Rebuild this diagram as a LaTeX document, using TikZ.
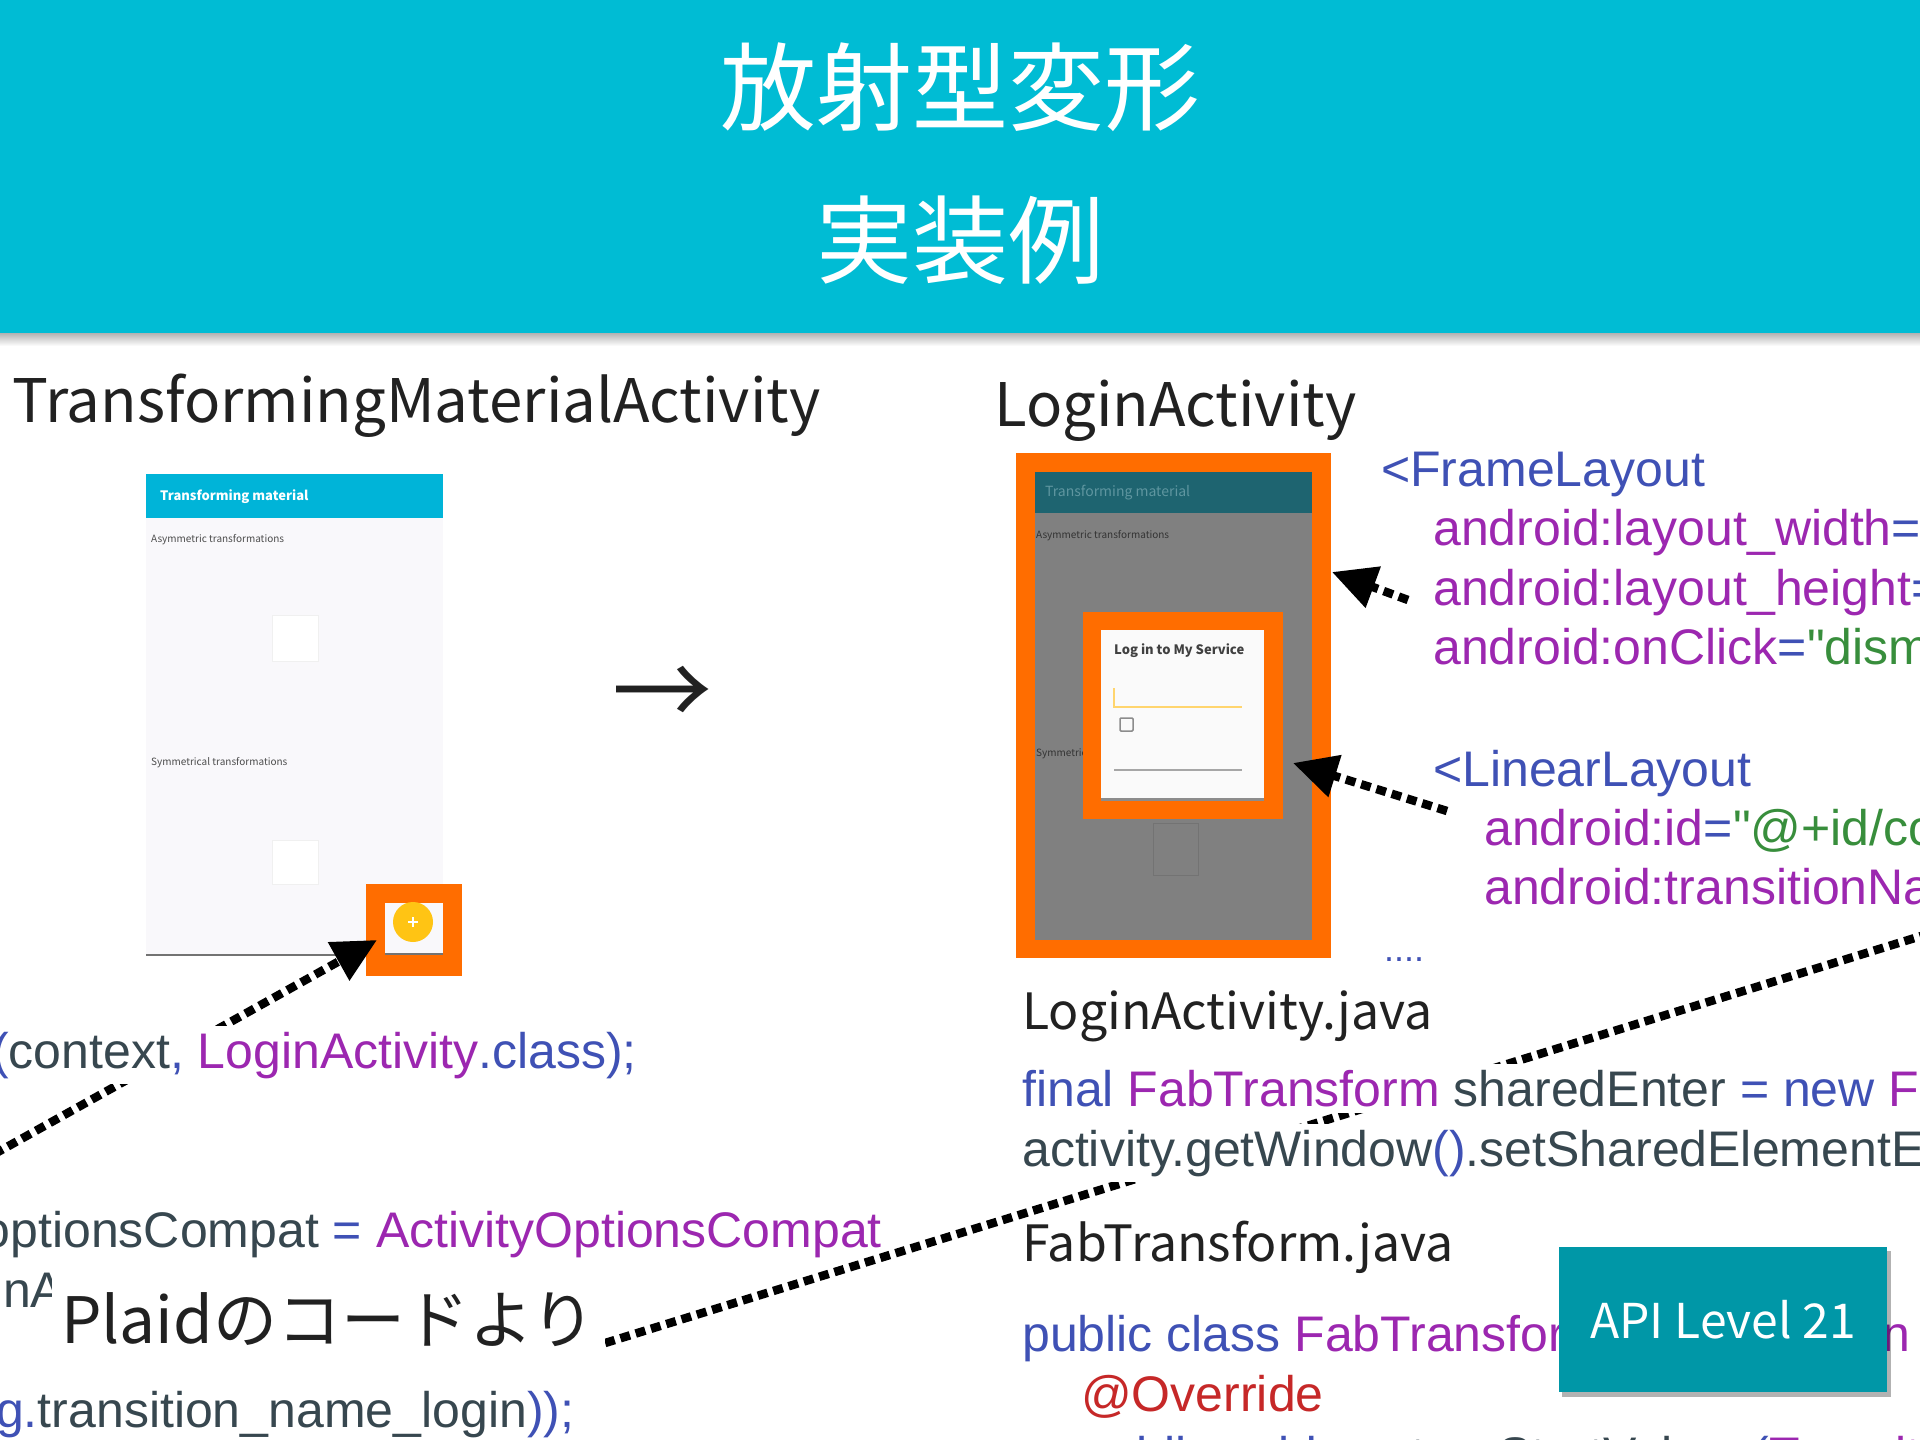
\documentclass[tikz,border=0pt]{standalone}
\usepackage{fontspec}
\setmainfont{Noto Sans CJK JP}
\newfontfamily\codefont{Liberation Sans}
\usetikzlibrary{arrows.meta}
\definecolor{titlebg}{RGB}{0,188,212}
\definecolor{orng}{RGB}{255,109,0}
\definecolor{cblue}{RGB}{63,81,181}
\definecolor{cpurple}{RGB}{156,39,176}
\definecolor{cgray}{RGB}{55,71,79}
\definecolor{cgreen}{RGB}{56,142,60}
\definecolor{cred}{RGB}{198,40,40}
\definecolor{apibg}{RGB}{0,151,167}
\definecolor{tbblue}{RGB}{0,180,216}
\definecolor{tbdark}{RGB}{30,100,112}
\definecolor{tbdarktxt}{RGB}{95,150,160}
\definecolor{scrgray}{RGB}{128,128,128}
\definecolor{scrlight}{RGB}{249,248,251}
\definecolor{headtxt}{RGB}{33,33,33}
\definecolor{fabyel}{RGB}{255,196,20}
\definecolor{fieldyel}{RGB}{255,213,110}
\newcommand\kB[1]{\textcolor{cblue}{#1}}
\newcommand\kP[1]{\textcolor{cpurple}{#1}}
\newcommand\kG[1]{\textcolor{cgray}{#1}}
\newcommand\kN[1]{\textcolor{cgreen}{#1}}
\newcommand\kR[1]{\textcolor{cred}{#1}}
\pgfdeclarelayer{bg}
\pgfdeclarelayer{lines}
\pgfsetlayers{bg,lines,main}
\begin{document}
\begin{tikzpicture}[x=1pt,y=-1pt,
  box/.style={anchor=north west, inner sep=0pt, outer sep=0pt},
  code/.style={font=\codefont\fontsize{50}{60}\selectfont, anchor=base west, inner sep=0pt},
  head/.style={font=\fontsize{60}{70}\selectfont, text=headtxt, anchor=base west, inner sep=0pt},
  headsm/.style={font=\fontsize{50}{60}\selectfont, text=headtxt, anchor=base west, inner sep=0pt},
  mask/.style={fill=white, inner xsep=0pt, inner ysep=6pt},
  tiny/.style={font=\fontsize{10}{12}\selectfont, anchor=west, inner sep=0pt},
  dotline/.style={line width=8.5pt, dash pattern=on 10pt off 6pt},
  tipped/.style={-{Triangle[length=44pt,width=42pt]}},
]
\useasboundingbox (0,0) rectangle (1920,1440);
\begin{pgfonlayer}{bg}
  \fill[white] (0,0) rectangle (1920,1440);
  \fill[titlebg] (0,0) rectangle (1920,333);
  \shade[top color=black!30, bottom color=white] (0,333) rectangle (1920,346);
  % left phone
  \node[box, fill=scrlight, minimum width=297, minimum height=481] (lscreen) at (146,474) {};
  \node[box, fill=tbblue, minimum width=297, minimum height=44] (ltool) at (146,474) {};
  \node[anchor=west, inner sep=0pt, text=white, font=\bfseries\fontsize{13}{16}\selectfont] (ltitle) at (160,497) {Transforming material};
  \node[tiny, text=black!70] (lasym) at (151,540) {Asymmetric transformations};
  \node[box, fill=white, draw=black!6, minimum width=46, minimum height=46] (lcard1) at (272,615) {};
  \node[tiny, text=black!70] (lsym) at (151,763) {Symmetrical transformations};
  \node[box, fill=white, draw=black!6, minimum width=46, minimum height=44] (lcard2) at (272,840) {};
  \draw[black!55, line width=2pt] (lscreen.south west) -- (lscreen.south east);
  \node[box, fill=orng, minimum width=96, minimum height=92] (fab) at (366,884) {};
  \node[box, fill=scrlight, minimum width=58, minimum height=51] (fabin) at (385,903) {};
  \draw[black!55, line width=2pt] (fabin.south west) -- (fabin.south east);
  \node[circle, fill=fabyel, minimum size=40, inner sep=0pt] (fabbtn) at (413,922) {};
  \draw[white, line width=1.5pt] (408,922) -- (418,922) (413,917) -- (413,927);
  % right phone
  \node[box, fill=orng, minimum width=315, minimum height=505] (rframe) at (1016,453) {};
  \node[box, fill=scrgray, minimum width=277, minimum height=468] (rscreen) at (1035,472) {};
  \node[box, fill=tbdark, minimum width=277, minimum height=41] (rtool) at (1035,472) {};
  \node[anchor=west, inner sep=0pt, text=tbdarktxt, font=\fontsize{14}{17}\selectfont] (rtitle) at (1045,493) {Transforming material};
  \node[tiny, text=black!80] (rasym) at (1036,536) {Asymmetric transformations};
  \node[tiny, text=black!80] (rsym) at (1036,754) {Symmetrical transformations};
  \node[box, fill=scrgray, draw=black!55, minimum width=45, minimum height=52] (rcard) at (1153,823) {};
  \node[box, fill=orng, minimum width=200, minimum height=207] (dframe) at (1083,612) {};
  \fill[black!45] (1101,633) rectangle (1264,801);
  \node[box, fill=black!2, minimum width=163, minimum height=168] (dialog) at (1101,630) {};
  \node[anchor=west, inner sep=0pt, text=black!75, font=\bfseries\fontsize{13}{15}\selectfont] (dtitle) at (1114,651) {Log in to My Service};
  \draw[fieldyel, line width=2.5pt] (1114,688) -- (1114,707) -- (1242,707);
  \draw[black!45, line width=1.5pt, rounded corners=1pt] (1120,718) rectangle (1133,731);
  \draw[black!35, line width=1.5pt] (1114,770) -- (1242,770);
\end{pgfonlayer}
% titles
\node[font=\fontsize{96}{96}\selectfont, text=white] (title1) at (960,87) {放射型変形};
\node[font=\fontsize{96}{96}\selectfont, text=white] (title2) at (960,240) {実装例};
% headings
\node[head] (h1) at (12,422) {TransformingMaterialActivity};
\node[head] (h2) at (994,426) {LoginActivity};
\node[font=\fontsize{100}{100}\selectfont, text=headtxt] (goes) at (662,697) {→};
% left code
\node[code, mask] (c1) at (-8,1068) {\kB{(}\kG{context}\kB{,} \kP{LoginActivity}\kB{.class);}};
\node[code, anchor=base east] (c2) at (882,1247) {\kG{optionsCompat} \kB{=} \kP{ActivityOptionsCompat}};
\node[code] (c3) at (3,1307) {\kG{nAnimation(}};
\node[code] (c4) at (-4,1427) {\kB{g.}\kG{transition\_name\_login}\kB{));}};
\node[anchor=base west, fill=white, inner xsep=9pt, inner ysep=0pt, text height=75pt, text depth=40pt,
      font=\fontsize{64}{70}\selectfont, text=headtxt] (plaid) at (52,1343) {Plaidのコードより};
% right xml
\node[code] (x1) at (1381,486) {\kB{<FrameLayout}};
\node[code] (x2) at (1433,545) {\kP{android:layout\_width}\kB{=}};
\node[code] (x3) at (1433,605) {\kP{android:layout\_height}\kB{=}};
\node[code] (x4) at (1433,664) {\kP{android:onClick}\kB{=}\kN{"dism}};
\node[code] (x5) at (1433,786) {\kB{<LinearLayout}};
\node[code] (x6) at (1484,845) {\kP{android:id}\kB{=}\kN{"@+id/co}};
\node[code] (x7) at (1484,904) {\kP{android:transitionNa}};
\node[code, font=\codefont\fontsize{36}{40}\selectfont] (x8) at (1384,961) {\kB{....}};
% right java
\node[headsm] (j1) at (1022,1029) {LoginActivity.java};
\node[code, mask] (j2) at (1022,1106) {\kB{final} \kP{FabTransform} \kG{sharedEnter} \kB{=} \kB{new} \kP{Fa}};
\node[code, mask] (j3) at (1022,1166) {\kG{activity.getWindow}\kB{()}\kG{.setSharedElementE}};
\node[headsm] (j4) at (1022,1261) {FabTransform.java};
\node[code] (j5) at (1022,1351) {\kB{public class} \kP{FabTransform} \kB{extends} \kP{Tran}};
\node[code] (j6) at (1081,1411) {\kR{@Override}};
\node[code] (j7) at (1081,1472) {\kB{public void} \kG{captureStartValues}\kB{(}\kP{Transit}};
\fill[black, opacity=0.3] (1562,1251) rectangle (1891,1397);
\node[box, fill=apibg, minimum width=328, minimum height=145, text=white,
      font=\fontsize{48}{56}\selectfont] (api) at (1559,1247) {API Level 21};
% connectors
\coordinate (lstart) at (-20,1162);
\coordinate (fabtip) at (377,940);
\coordinate (rend) at (1960,924);
\coordinate (a1s) at (1408,600);
\coordinate (a1t) at (1332,572);
\coordinate (a2s) at (1447,811);
\coordinate (a2t) at (1293,763);
\begin{pgfonlayer}{lines}
  \draw[dotline, tipped] (lstart) -- (fabtip);
  \draw[dotline] (plaid.base east) -- (rend);
  \draw[dotline, tipped] (a1s) -- (a1t);
  \draw[dotline, tipped] (a2s) -- (a2t);
\end{pgfonlayer}
\end{tikzpicture}
\end{document}
